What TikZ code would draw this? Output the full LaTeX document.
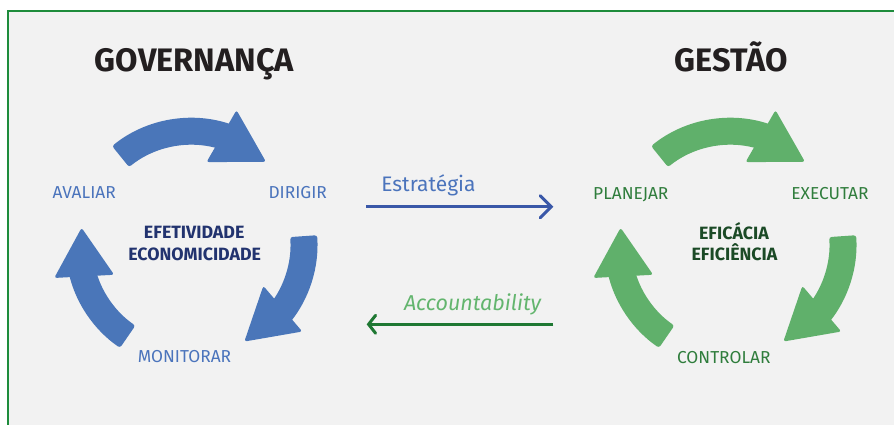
\documentclass[tikz,border=0pt]{standalone}
\usepackage{fontspec}
\setmainfont{Fira Sans}
\usetikzlibrary{calc,arrows.meta}
\definecolor{frameG}{HTML}{1E8C3C}
\definecolor{bgG}{HTML}{F2F2F2}
\definecolor{arrB}{HTML}{4A76B9}
\definecolor{arrG}{HTML}{60B06B}
\definecolor{lblB}{HTML}{4B74BC}
\definecolor{lblG}{HTML}{2F7D3C}
\definecolor{midB}{HTML}{22336F}
\definecolor{midG}{HTML}{1B4A26}
\definecolor{titleC}{HTML}{231F20}
\definecolor{lineB}{HTML}{3A58A8}
\definecolor{lineG}{HTML}{1F7833}
\definecolor{accG}{HTML}{63B56E}
% cycle arrow: {shift}{tail angle}{base angle}{tip angle}{colour}
\newcommand{\cycarrow}[5]{%
  \begin{scope}[shift={(#1)}]
    \fill[#5, rounded corners=2.5pt] (#2:126) arc[start angle=#2, end angle={#3-4}, radius=126]
      -- ({#3-4}:99) arc[start angle={#3-4}, end angle=#2, radius=99] -- cycle;
    \coordinate (M) at (#3:112);
    \coordinate (T) at (#4:111);
    \fill[#5, rounded corners=2.5pt] ($(M)!30pt!90:(T)$) -- (T) -- ($(M)!30pt!-90:(T)$) -- cycle;
  \end{scope}}
\tikzset{
  title/.style={font=\fontsize{32.5}{36}\selectfont\bfseries, text=titleC, anchor=base, inner sep=0pt},
  lblb/.style={font=\fontsize{17.3}{20}\selectfont, text=lblB, anchor=base, inner sep=0pt},
  lblg/.style={font=\fontsize{17.3}{20}\selectfont, text=lblG, anchor=base, inner sep=0pt},
  midb/.style={font=\fontsize{17.8}{20}\selectfont\bfseries, text=midB, anchor=base, inner sep=0pt},
  midg/.style={font=\fontsize{17.8}{20}\selectfont\bfseries, text=midG, anchor=base, inner sep=0pt},
  flowlbl/.style={font=\fontsize{21}{24}\selectfont, anchor=base, inner sep=0pt},
}
\begin{document}
\begin{tikzpicture}[x=1pt,y=1pt]
  \useasboundingbox (0,0) rectangle (894,-425);
  \fill[white] (0,0) rectangle (894,-425);
  \fill[bgG] (8,-11) rectangle (894,-425);
  \draw[frameG, line width=2pt] (8,-425) -- (8,-11) -- (894,-11);

  % titles
  \node[title] (tgov) at (194.5,-71.7) {GOVERNANÇA};
  \node[title] (tges) at (731.2,-72) {GESTÃO};

  % governance cycle
  \cycarrow{191.4,-244}{129}{74.4}{47.8}{arrB}
  \cycarrow{191.4,-244}{4}{-35.3}{-61.5}{arrB}
  \cycarrow{191.4,-244}{235.5}{196.8}{171.6}{arrB}
  \node[lblb] (aval) at (84.2,-198.5) {AVALIAR};
  \node[lblb] (diri) at (297.7,-198.5) {DIRIGIR};
  \node[lblb] (moni) at (184.5,-362.8) {MONITORAR};
  \node[midb] (efet) at (194.2,-238.3) {EFETIVIDADE};
  \node[midb] (econ) at (194.7,-260) {ECONOMICIDADE};

  % management cycle
  \cycarrow{730.4,-244}{129}{74.4}{47.8}{arrG}
  \cycarrow{730.4,-244}{4}{-35.3}{-61.5}{arrG}
  \cycarrow{730.4,-244}{235.5}{196.8}{171.6}{arrG}
  \node[lblg] (plan) at (630.8,-199) {PLANEJAR};
  \node[lblg] (exec) at (830,-199) {EXECUTAR};
  \node[lblg] (cont) at (723.8,-363) {CONTROLAR};
  \node[midg] (efic) at (734,-239) {EFICÁCIA};
  \node[midg] (efie) at (734.5,-260) {EFICIÊNCIA};

  % flows
  \coordinate (estA) at (366,-206.7);
  \coordinate (estB) at (553.3,-206.7);
  \draw[lineB, line width=3pt, -{Straight Barb[length=11pt,width=22pt,line cap=round]}] (estA) -- (estB);
  \node[flowlbl, text=lblB] (estr) at (428.4,-191.7) {Estratégia};

  \coordinate (accA) at (553.3,-324.3);
  \coordinate (accB) at (366.7,-324.3);
  \draw[lineG, line width=3pt, -{Straight Barb[length=7pt,width=18pt,line cap=round]}] (accA) -- (accB);
  \node[flowlbl, text=accG, font=\fontsize{21.5}{24}\selectfont\itshape] (acco) at (472.5,-310) {Accountability};
\end{tikzpicture}
\end{document}
